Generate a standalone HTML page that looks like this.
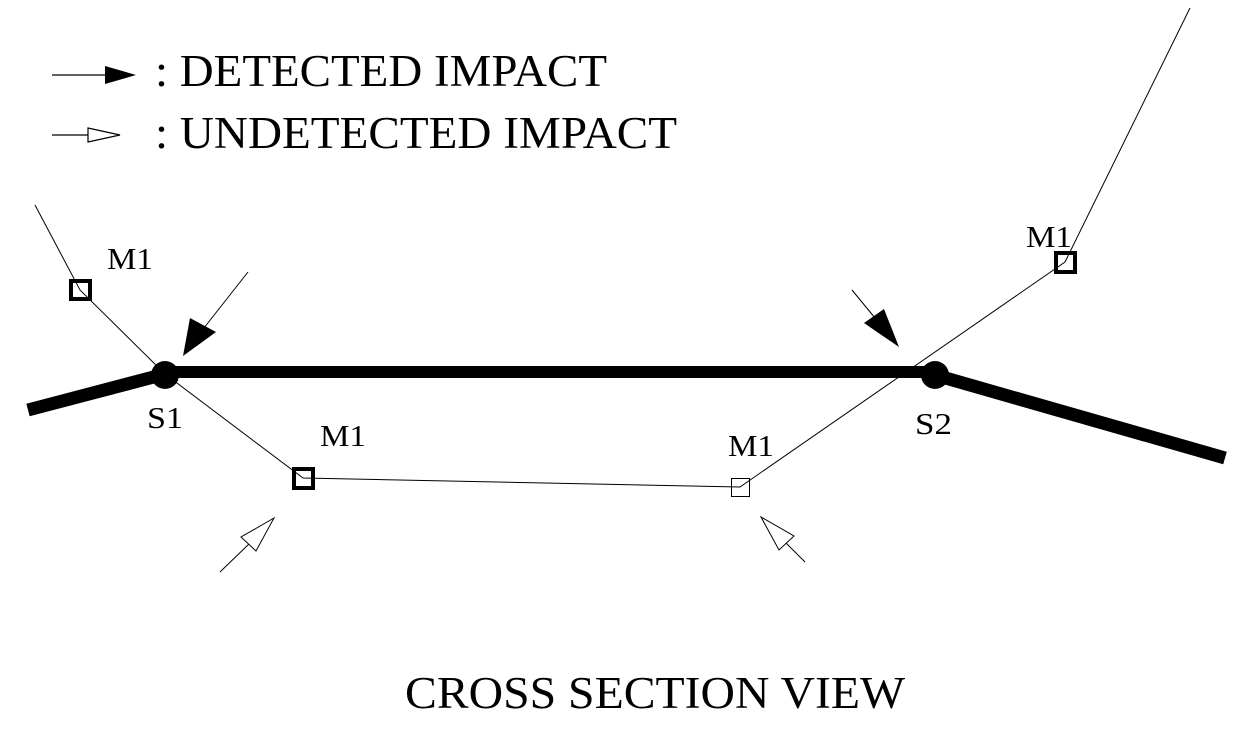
<!DOCTYPE html>
<html><head><style>
html,body{margin:0;padding:0;background:#fff;}
svg{display:block;}
text{font-family:"Liberation Serif",serif;fill:#000;}
</style></head><body>
<svg width="1245" height="750" viewBox="0 0 1245 750" xmlns="http://www.w3.org/2000/svg">
<!-- legend -->
<line x1="52" y1="75" x2="108" y2="75" stroke="#000" stroke-width="1.2"/>
<polygon points="105,66 136,75 105,84" fill="#000"/>
<text x="155" y="86" font-size="45" textLength="452" lengthAdjust="spacingAndGlyphs">: DETECTED IMPACT</text>
<line x1="52" y1="135" x2="88" y2="135" stroke="#000" stroke-width="1.2"/>
<polygon points="88,128 120,135 88,142" fill="#fff" stroke="#000" stroke-width="1.2"/>
<text x="155" y="148" font-size="45" textLength="522" lengthAdjust="spacingAndGlyphs">: UNDETECTED IMPACT</text>

<!-- thin lines -->
<polyline points="35,205 80,290 165,374 303,478 740,487 1065,262 1190,8" fill="none" stroke="#000" stroke-width="1"/>

<!-- thick lines -->
<line x1="28" y1="410" x2="165" y2="374" stroke="#000" stroke-width="13"/>
<line x1="165" y1="372" x2="935" y2="372" stroke="#000" stroke-width="12"/>
<line x1="935" y1="375" x2="1225" y2="458" stroke="#000" stroke-width="13"/>
<circle cx="165" cy="375" r="14" fill="#000"/>
<circle cx="935" cy="375" r="14" fill="#000"/>

<!-- squares -->
<rect x="71" y="281" width="19" height="18" fill="none" stroke="#000" stroke-width="4"/>
<rect x="294" y="469" width="19" height="19" fill="none" stroke="#000" stroke-width="4"/>
<rect x="731.5" y="478.5" width="18" height="18" fill="none" stroke="#000" stroke-width="1"/>
<rect x="1056" y="253" width="19" height="19" fill="none" stroke="#000" stroke-width="4"/>

<!-- detected arrows -->
<line x1="248" y1="272" x2="200" y2="333" stroke="#000" stroke-width="1"/>
<polygon points="190,318 216,332 183,356" fill="#000"/>
<line x1="852" y1="290" x2="875" y2="318" stroke="#000" stroke-width="1"/>
<polygon points="864,323 884,309 899,347" fill="#000"/>

<!-- undetected arrows -->
<line x1="220" y1="572" x2="250" y2="543" stroke="#000" stroke-width="1"/>
<polygon points="274,518 241,537 256,551" fill="#fff" stroke="#000" stroke-width="1"/>
<line x1="805" y1="562" x2="786" y2="543" stroke="#000" stroke-width="1"/>
<polygon points="761,517 779,550 794,536" fill="#fff" stroke="#000" stroke-width="1"/>

<!-- labels -->
<text x="107" y="269" font-size="31" textLength="46" lengthAdjust="spacingAndGlyphs">M1</text>
<text x="147" y="428" font-size="31" textLength="36" lengthAdjust="spacingAndGlyphs">S1</text>
<text x="320" y="446" font-size="31" textLength="46" lengthAdjust="spacingAndGlyphs">M1</text>
<text x="728" y="456" font-size="31" textLength="46" lengthAdjust="spacingAndGlyphs">M1</text>
<text x="915" y="434" font-size="31" textLength="37" lengthAdjust="spacingAndGlyphs">S2</text>
<text x="1026" y="247" font-size="31" textLength="46" lengthAdjust="spacingAndGlyphs">M1</text>

<text x="405" y="708" font-size="45" textLength="500" lengthAdjust="spacingAndGlyphs">CROSS SECTION VIEW</text>
</svg>
</body></html>
